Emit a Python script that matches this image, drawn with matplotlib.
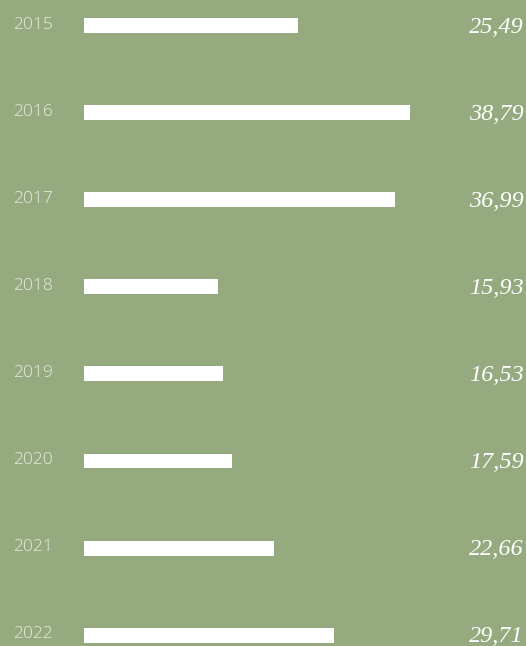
import matplotlib.pyplot as plt

years = ["2015", "2016", "2017", "2018", "2019", "2020", "2021", "2022"]
values = [25.49, 38.79, 36.99, 15.93, 16.53, 17.59, 22.66, 29.71]

bg = "#96aa80"

fig = plt.figure(figsize=(5.26, 6.46), dpi=100, facecolor=bg)
ax = fig.add_axes([0, 0, 1, 1])
ax.set_facecolor(bg)

pos = list(range(len(years)))
ax.barh(pos, values, height=0.172, color="white", left=0)

ax.set_xlim(-10, 52.62)
ax.set_ylim(7.124, -0.293)
ax.axis("off")

tr = ax.get_yaxis_transform()
for i, (yr, v) in enumerate(zip(years, values)):
    ax.text(0.1008, i - 0.01, yr, transform=tr, ha="right", va="center",
            fontsize=12.5, family="Open Sans", fontweight="light", color="#e8ecdf")
    ax.text(0.9962, i + 0.02, f"{v:.2f}".replace(".", ","), transform=tr,
            ha="right", va="center", fontsize=17.5, family="Liberation Serif",
            style="italic", color="white")

fig.savefig("out.png", dpi=100, facecolor=bg)
